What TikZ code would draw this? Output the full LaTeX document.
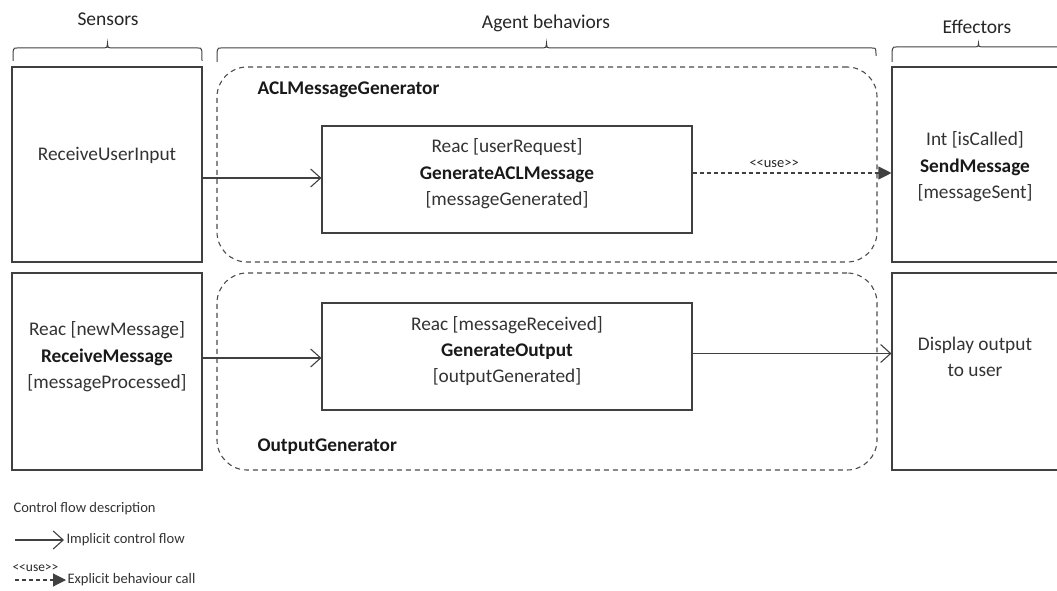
\documentclass[tikz,border=0pt]{standalone}
\usepackage{fontspec}
\setmainfont{Carlito}
\usetikzlibrary{arrows.meta}
\begin{document}
\begin{tikzpicture}[x=1bp,y=-1bp,
  line width=1.1bp,
  ink/.style={draw=black!75},
  box/.style={ink, rectangle, inner sep=0pt},
  txt/.style={align=center, text=black!80, font=\fontsize{19.4}{26.5}\selectfont, inner sep=0pt},
  head/.style={text=black!85, font=\fontsize{19.6}{22}\selectfont, inner sep=0pt},
  group/.style={draw=black!70, dash pattern=on 5bp off 4bp, rounded corners=30bp, inner sep=0pt},
  grouptitle/.style={font=\fontsize{19.4}{22}\selectfont\bfseries, text=black!90, anchor=west, inner sep=0pt},
  flow/.style={ink, -{Straight Barb[length=10bp,width=18bp,line width=1.1bp]}},
  call/.style={ink, dashed, dash pattern=on 4bp off 3bp, -{Triangle[length=13bp,width=13bp]}},
  small/.style={font=\fontsize{14.6}{16}\selectfont, text=black!80, inner sep=0pt},
  tiny/.style={font=\fontsize{14.5}{16}\selectfont, text=black!85, inner sep=0pt},
  brace/.style={draw=black!75, line width=1bp}
]
\useasboundingbox (0,0) rectangle (1057,591);
\clip (0,0) rectangle (1057,591);

% column headers
\node[head] (hs) at (108,19) {Sensors};
\node[head] (ha) at (546,23) {Agent behaviors};
\node[head] (he) at (977,27) {Effectors};

% curly braces under the headers
\draw[brace] (13,61) .. controls (13,48) .. (17,48) -- (104,48) .. controls (107,48) .. (107.5,43)
  .. controls (108,48) .. (111,48) -- (198,48) .. controls (202,48) .. (202,61);
\draw[brace] (217,62) .. controls (217,48) .. (221,48) -- (543,48) .. controls (546,48) .. (546.5,43)
  .. controls (547,48) .. (550,48) -- (872,48) .. controls (876,48) .. (876,56);
\draw[brace] (892,62) .. controls (892,47) .. (896,47) -- (975,47) .. controls (978,47) .. (978.5,43)
  .. controls (979,47) .. (982,47) -- (1060,47) .. controls (1064,47) .. (1064,62);

% behaviour groups
\node[group, minimum width=660bp, minimum height=195bp] (grp1) at (547,164.5) {};
\node[group, minimum width=660bp, minimum height=197bp] (grp2) at (547,371.5) {};
\node[grouptitle] (grp1t) at (257,90) {ACLMessageGenerator};
\node[grouptitle] (grp2t) at (257,447) {OutputGenerator};

% sensors
\node[box, minimum width=190bp, minimum height=195bp] (s1) at (107,164.5) {};
\node[box, minimum width=190bp, minimum height=197bp] (s2) at (107,371.5) {};
\node[txt] (s1t) at (107,155) {ReceiveUserInput};
\node[txt] (s2t) at (107,357) {Reac [newMessage]\\\textbf{\color{black!90}ReceiveMessage}\\{}[messageProcessed]};

% behaviours
\node[box, minimum width=370bp, minimum height=107bp] (g1) at (507,179.5) {};
\node[box, minimum width=370bp, minimum height=107bp] (g2) at (507,356.5) {};
\node[txt] (g1t) at (507,174) {Reac [userRequest]\\\textbf{\color{black!90}GenerateACLMessage}\\{}[messageGenerated]};
\node[txt] (g2t) at (507,351) {Reac [messageReceived]\\\textbf{\color{black!90}GenerateOutput}\\{}[outputGenerated]};

% effectors
\node[box, minimum width=168bp, minimum height=195bp] (e1) at (976,164.5) {};
\node[box, minimum width=168bp, minimum height=197bp] (e2) at (976,371.5) {};
\node[txt] (e1t) at (975,167) {Int [isCalled]\\\textbf{\color{black!90}SendMessage}\\{}[messageSent]};
\node[txt] (e2t) at (975,357) {Display output\\to user};

% connectors
\draw[flow] ([yshift=1.5bp]s1.east |- g1.west) -- ([yshift=1.5bp]g1.west);
\draw[flow] ([yshift=-1.5bp]s2.east |- g2.west) -- ([yshift=-1.5bp]g2.west);
\draw[call] ([yshift=6.5bp]g1.east) -- ([yshift=6.5bp]g1.east -| e1.west)
  node[pos=0.41, above=5bp, tiny] (uselbl) {{<}{<}use{>}{>}};
\draw[flow] ([yshift=3bp]g2.east) -- ([yshift=3bp]g2.east -| e2.west);

% legend
\node[small, anchor=west] (lg0) at (13,509) {Control flow description};
\coordinate (lg1a) at (15,540);
\coordinate (lg1b) at (64,540);
\draw[flow] (lg1a) -- (lg1b);
\node[small, anchor=west] (lg1) at (66,540) {Implicit control flow};
\node[tiny, font=\fontsize{13.5}{15}\selectfont, anchor=west] (lg2u) at (12,568) {{<}{<}use{>}{>}};
\coordinate (lg2a) at (15,580);
\coordinate (lg2b) at (66,580);
\draw[call] (lg2a) -- (lg2b);
\node[small, anchor=west] (lg2) at (67,580) {Explicit behaviour call};
\end{tikzpicture}
\end{document}
